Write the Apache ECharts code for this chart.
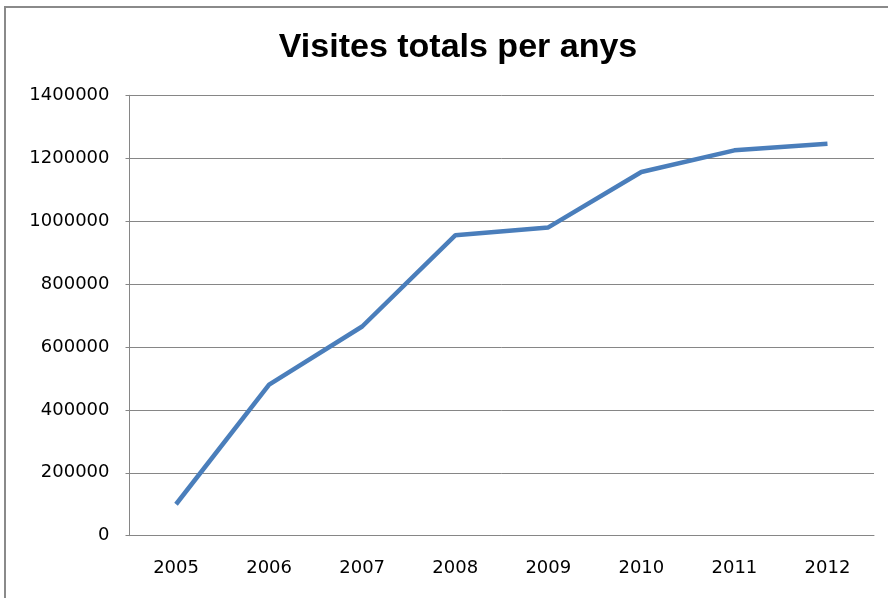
<!DOCTYPE html>
<html>
<head>
<meta charset="utf-8">
<script src="https://cdn.jsdelivr.net/npm/echarts@6/dist/echarts.min.js"></script>
<style>
html,body{margin:0;padding:0;background:#fff;}
#chart{width:888px;height:598px;}
</style>
</head>
<body>
<div id="chart"></div>
<script>
const titleText = "Visites totals per anys";
const years = ["2005","2006","2007","2008","2009","2010","2011","2012"];
const visits = [100000, 480000, 665000, 955000, 980000, 1156000, 1225000, 1246000];
const yMin = 0, yMax = 1400000, yStep = 200000;

const chart = echarts.init(document.getElementById('chart'), null, {renderer:'canvas'});
chart.setOption({
  animation: false,
  backgroundColor: '#ffffff',
  graphic: [{
    type: 'rect',
    shape: {x: 5, y: 7, width: 1000, height: 800},
    style: {fill: 'none', stroke: '#8a8a8a', lineWidth: 2},
    silent: true
  }],
  title: {
    text: titleText,
    left: 453,
    textAlign: 'center',
    top: 26,
    textStyle: {fontFamily: 'Liberation Sans, Arial, sans-serif', fontWeight: 'bold', fontSize: 34, color: '#000'}
  },
  grid: {left: 129.5, right: 14, top: 95.3, bottom: 62.3, containLabel: false},
  xAxis: {
    type: 'category',
    data: years,
    boundaryGap: true,
    axisLine: {show: true, lineStyle: {color: '#868686', width: 1}},
    axisTick: {show: false},
    axisLabel: {margin: 24, fontFamily: 'DejaVu Sans, sans-serif', fontSize: 18, color: '#000'},
    splitLine: {show: false}
  },
  yAxis: {
    type: 'value',
    min: yMin, max: yMax, interval: yStep,
    axisLine: {show: true, lineStyle: {color: '#868686', width: 1}},
    axisTick: {show: true, length: 4, lineStyle: {color: '#868686'}},
    axisLabel: {margin: 20, fontFamily: 'DejaVu Sans, sans-serif', fontSize: 18, color: '#000',
      formatter: function (v) { return String(v); }},
    splitLine: {show: true, lineStyle: {color: '#868686', width: 1}}
  },
  series: [{
    type: 'line',
    data: visits,
    showSymbol: false,
    symbol: 'none',
    lineStyle: {color: '#4a7ebb', width: 4.5},
    itemStyle: {color: '#4a7ebb'}
  }]
});
</script>
</body>
</html>
